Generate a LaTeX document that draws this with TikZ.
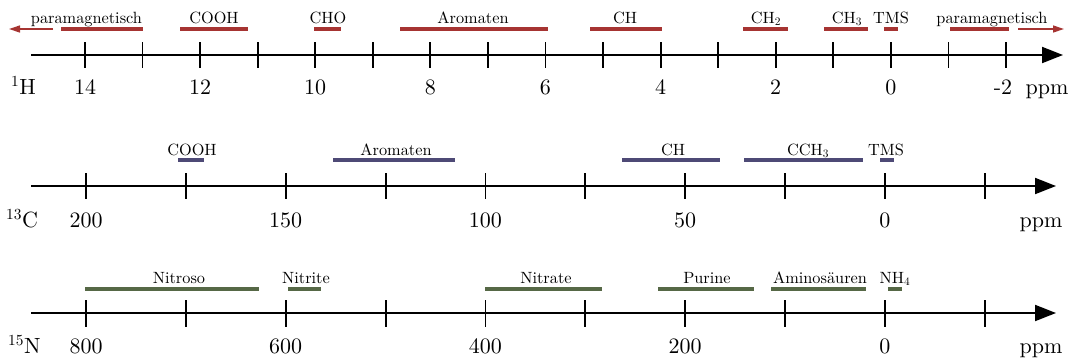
\documentclass[tikz,border=0pt]{standalone}
\usepackage{fontspec}
\setmainfont{lmroman10-regular.otf}
\usetikzlibrary{arrows.meta}
\definecolor{hred}{RGB}{166,52,50}
\definecolor{cblue}{RGB}{78,74,118}
\definecolor{ngreen}{RGB}{86,104,70}
\tikzset{
  axisline/.style={line width=2pt,-{Triangle[length=21pt,width=16pt]}},
  tickmark/.style={line width=1.8pt},
  rangebar/.style={line width=4pt},
  lbl/.style={anchor=base,inner sep=0pt,font=\fontsize{16.3}{19}\selectfont},
  num/.style={anchor=base,inner sep=0pt,font=\fontsize{22}{26}\selectfont},
  iso/.style={anchor=base west,inner sep=0pt,font=\fontsize{22}{26}\selectfont},
  farrow/.style={line width=1.3pt,hred,-{Triangle[length=11pt,width=7pt]}}
}
\begin{document}
\begin{tikzpicture}[x=1pt,y=-1pt]
\useasboundingbox (0,0) rectangle (1074,360);
% ---------------- 1H ----------------
\coordinate (hA) at (31,55);
\coordinate (hB) at (1063,55);
\draw[axisline] (hA) -- (hB);
\foreach \v in {14,13,...,-2}{
  \draw[tickmark] ({85+57.56*(14-\v)},42) -- ({85+57.56*(14-\v)},68);
}
\foreach \v in {14,12,10,8,6,4,2,0}{
  \node[num] (hn\v) at ({85+57.56*(14-\v)},94) {\v};
}
\node[num] (hnm2) at (1003,94) {-2};
\node[num] (hppm) at (1047,94) {ppm};
\node[iso] (hiso) at (11,94) {\textsuperscript{1}H};
\begin{scope}[hred]
\draw[rangebar] (61,29) -- (143,29);
\draw[rangebar] (180,29) -- (248,29);
\draw[rangebar] (314,29) -- (341,29);
\draw[rangebar] (400,29) -- (548,29);
\draw[rangebar] (590,29) -- (662,29);
\draw[rangebar] (743,29) -- (788,29);
\draw[rangebar] (824,29) -- (868,29);
\draw[rangebar] (884,29) -- (898,29);
\draw[rangebar] (950,29) -- (1009,29);
\end{scope}
\coordinate (pla) at (53,29); \coordinate (plb) at (9,29);
\coordinate (pra) at (1018,29); \coordinate (prb) at (1064,29);
\draw[farrow] (pla) -- (plb);
\draw[farrow] (pra) -- (prb);
\node[lbl] (h1) at (86.5,23) {paramagnetisch};
\node[lbl] (h2) at (214,23) {COOH};
\node[lbl] (h3) at (328,23) {CHO};
\node[lbl] (h4) at (473,23) {Aromaten};
\node[lbl] (h5) at (625,23) {CH};
\node[lbl] (h6) at (766,23) {CH\textsubscript{2}};
\node[lbl] (h7) at (847,23) {CH\textsubscript{3}};
\node[lbl] (h8) at (891,23) {TMS};
\node[lbl] (h9) at (992,23) {paramagnetisch};
% ---------------- 13C ----------------
\coordinate (cA) at (31,186);
\coordinate (cB) at (1056,186);
\draw[axisline] (cA) -- (cB);
\foreach \i in {0,...,9}{
  \draw[tickmark] ({86+99.87*\i},173) -- ({86+99.87*\i},199);
}
\foreach \v/\i in {200/0,150/2,100/4,50/6,0/8}{
  \node[num] (cn\v) at ({86+99.87*\i},227) {\v};
}
\node[num] (cppm) at (1041,227) {ppm};
\node[iso] (ciso) at (6,227) {\textsuperscript{13}C};
\begin{scope}[cblue]
\draw[rangebar] (178,160) -- (204,160);
\draw[rangebar] (333,160) -- (455,160);
\draw[rangebar] (622,160) -- (720,160);
\draw[rangebar] (744,160) -- (863,160);
\draw[rangebar] (880,160) -- (894,160);
\end{scope}
\node[lbl] (c1) at (192,155) {COOH};
\node[lbl] (c2) at (396,155) {Aromaten};
\node[lbl] (c3) at (673,155) {CH};
\node[lbl] (c4) at (808,155) {CCH\textsubscript{3}};
\node[lbl] (c5) at (886,155) {TMS};
% ---------------- 15N ----------------
\coordinate (nA) at (31,313);
\coordinate (nB) at (1056,313);
\draw[axisline] (nA) -- (nB);
\foreach \i in {0,...,9}{
  \draw[tickmark] ({86+99.87*\i},300) -- ({86+99.87*\i},327);
}
\foreach \v/\i in {800/0,600/2,400/4,200/6,0/8}{
  \node[num] (nn\v) at ({86+99.87*\i},353) {\v};
}
\node[num] (nppm) at (1041,353) {ppm};
\node[iso] (niso) at (8,353) {\textsuperscript{15}N};
\begin{scope}[ngreen]
\draw[rangebar] (85,289) -- (259,289);
\draw[rangebar] (288,289) -- (321,289);
\draw[rangebar] (485,289) -- (602,289);
\draw[rangebar] (658,289) -- (754,289);
\draw[rangebar] (771,289) -- (866,289);
\draw[rangebar] (888,289) -- (902,289);
\end{scope}
\node[lbl] (n1) at (179,283) {Nitroso};
\node[lbl] (n2) at (306,283) {Nitrite};
\node[lbl] (n3) at (546,283) {Nitrate};
\node[lbl] (n4) at (707,283) {Purine};
\node[lbl] (n5) at (820,283) {Aminosäuren};
\node[lbl] (n6) at (895,283) {NH\textsubscript{4}};
\end{tikzpicture}
\end{document}
